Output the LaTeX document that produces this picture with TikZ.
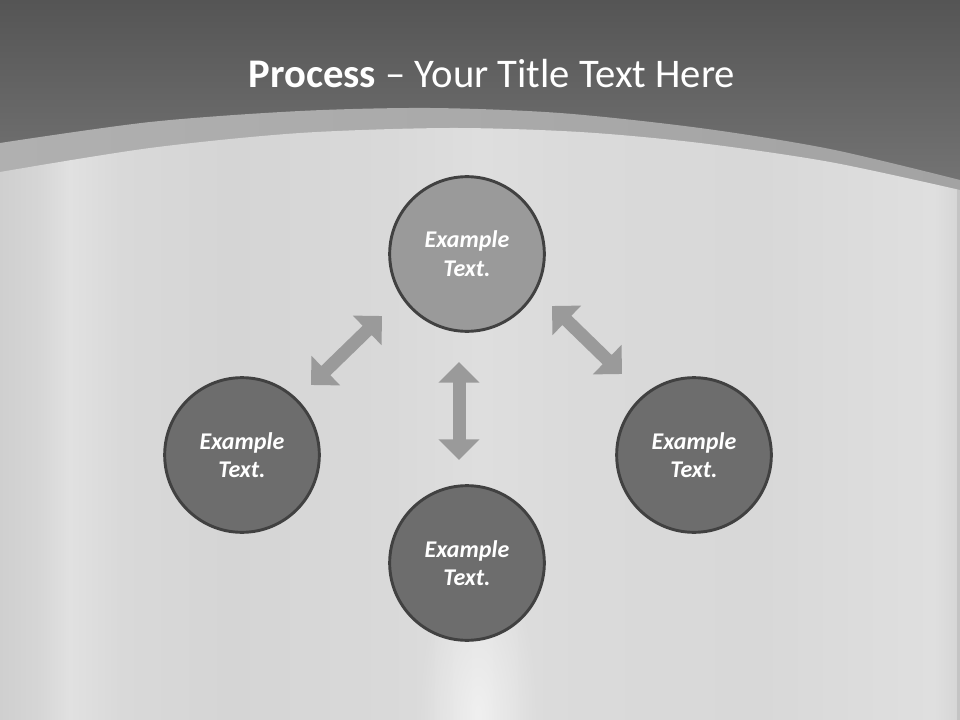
\documentclass[tikz,border=0pt]{standalone}
\usepackage{fontspec}
\newfontfamily\calib{Carlito}
\usetikzlibrary{arrows.meta,fadings}
\definecolor{topdark}{HTML}{555555}
\definecolor{toplight}{HTML}{767676}
\definecolor{bandL}{HTML}{B0B0B0}
\definecolor{bandR}{HTML}{A3A3A3}
\definecolor{circlight}{HTML}{9A9A9A}
\definecolor{circdark}{HTML}{6D6D6D}
\definecolor{circedge}{HTML}{414141}
\definecolor{arrowgray}{HTML}{9A9A9A}
\definecolor{sA}{RGB}{207,207,207}
\definecolor{sB}{RGB}{214,214,214}
\definecolor{sC}{RGB}{225,225,225}
\definecolor{sD}{RGB}{217,217,217}
\definecolor{sE}{RGB}{213,213,213}
\definecolor{sF}{RGB}{217,217,217}
\definecolor{sG}{RGB}{222,222,222}
\definecolor{sH}{RGB}{218,218,218}
\definecolor{sI}{RGB}{216,216,216}
\definecolor{sJ}{RGB}{223,223,223}
\definecolor{sK}{RGB}{214,214,214}
\definecolor{sEdge}{RGB}{196,196,196}
\tikzfading[name=softglow, inner color=transparent!0, outer color=transparent!100]
\begin{document}
\begin{tikzpicture}[x=0.75pt,y=-0.75pt,
  bubble/.style={circle, draw=circedge, line width=2.2pt, minimum size=116pt, inner sep=0pt,
    text=white, align=center, font=\calib\bfseries\itshape\fontsize{18}{21.5}\selectfont},
  dblarrow/.style={draw=arrowgray, line width=9.75pt,
    {Triangle[width=30pt,length=15.5pt]}-{Triangle[width=30pt,length=15.5pt]}}
]
\useasboundingbox (0,0) rectangle (960,720);
% top dark band
\shade[top color=topdark, bottom color=toplight] (0,0) rectangle (960,200);
% lighter arc band
\shade[left color=bandL, right color=bandR]
  plot[smooth] coordinates {(0,143) (150,122) (300,111) (430,108) (560,113) (700,128) (830,149) (960,180)}
  -- (960,720) -- (0,720) -- cycle;
% silver area
\begin{scope}
\clip plot[smooth] coordinates {(0,172) (150,148) (300,133) (450,128) (580,132) (700,143) (830,162) (960,190)}
  -- (960,720) -- (0,720) -- cycle;
\shade[left color=sA, right color=sB] (0,100) rectangle (40,720);
\shade[left color=sB, right color=sC] (39.5,100) rectangle (70,720);
\shade[left color=sC, right color=sD] (69.5,100) rectangle (120,720);
\shade[left color=sD, right color=sE] (119.5,100) rectangle (230,720);
\shade[left color=sE, right color=sF] (229.5,100) rectangle (390,720);
\shade[left color=sF, right color=sG] (389.5,100) rectangle (480,720);
\shade[left color=sG, right color=sH] (479.5,100) rectangle (580,720);
\shade[left color=sH, right color=sI] (579.5,100) rectangle (760,720);
\shade[left color=sI, right color=sJ] (759.5,100) rectangle (935,720);
\shade[left color=sJ, right color=sK] (934.5,100) rectangle (957,720);
\fill[sEdge] (957,100) rectangle (960,720);
\fill[white, opacity=0.55, path fading=softglow] (478,715) ellipse [x radius=60, y radius=170];
\end{scope}
% title
\node[anchor=base, text=white, font=\calib\fontsize{30.5}{36}\selectfont] (title) at (492,88)
  {\textbf{Process} – Your Title Text Here};
% circles
\node[bubble, fill=circlight] (top) at (467,254) {Example\\Text.};
\node[bubble, fill=circdark] (left) at (242,455) {Example\\Text.};
\node[bubble, fill=circdark] (right) at (694,455) {Example\\Text.};
\node[bubble, fill=circdark] (bottom) at (467,563) {Example\\Text.};
% arrows
\coordinate (la) at (311,385);
\coordinate (lb) at (382,316);
\coordinate (ra) at (552,306);
\coordinate (rb) at (622,374);
\coordinate (ca) at (459,362);
\coordinate (cb) at (459,460);
\draw[dblarrow] (la) -- (lb);
\draw[dblarrow] (ra) -- (rb);
\draw[dblarrow] (ca) -- (cb);
\end{tikzpicture}
\end{document}
